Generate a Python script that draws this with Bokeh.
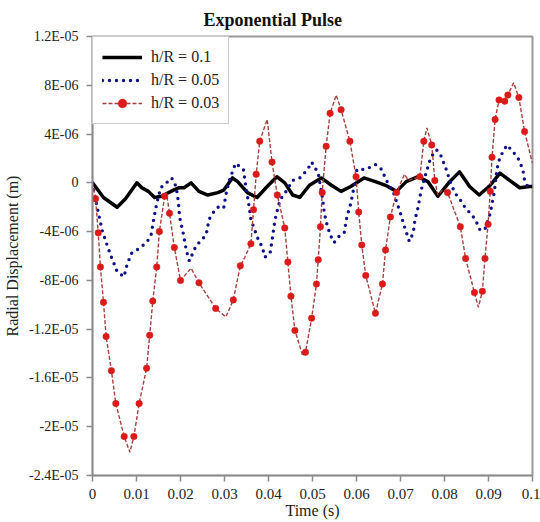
from bokeh.plotting import figure
from bokeh.models import FixedTicker, Legend, LegendItem
from bokeh.embed import file_html
from bokeh.resources import INLINE

# Time (s)
black_t = [0, 0.0025, 0.0056, 0.0075, 0.0101, 0.0112, 0.0127, 0.0141, 0.0157, 0.0184, 0.0197, 0.0208,
           0.0224, 0.0242, 0.0262, 0.0285, 0.0298, 0.0318, 0.033, 0.0352, 0.0374, 0.0397, 0.0419, 0.0437,
           0.0455, 0.0471, 0.0493, 0.052, 0.0543, 0.0565, 0.0587, 0.0617, 0.0643, 0.0666, 0.0691, 0.0713,
           0.074, 0.0762, 0.0785, 0.0812, 0.0834, 0.0857, 0.0879, 0.0904, 0.0926, 0.0948, 0.0971, 0.0993, 0.1]
# Radial displacement in units of 1E-06 m
black_v = [0, -1.2, -2.0, -1.3, 0.0, -0.4, -0.7, -1.2, -1.1, -0.6, -0.4, -0.4,
           0.0, -0.7, -1.0, -0.8, -0.6, 0.4, 0.1, -0.8, -1.2, -0.3, 0.5, 0.0,
           -1.0, -1.2, -0.2, 0.4, -0.2, -0.7, -0.3, 0.4, 0.1, -0.2, -0.7, 0.1,
           0.5, 0.1, -1.1, 0.1, 0.9, -0.3, -1.0, -0.2, 0.8, 0.2, -0.4, -0.3, -0.3]

blue_t = [0, 0.0007, 0.0016, 0.0022, 0.0034, 0.0043, 0.0052, 0.0056, 0.0072, 0.0076, 0.0081, 0.0088,
          0.0101, 0.0112, 0.0123, 0.0133, 0.0139, 0.0146, 0.0155, 0.0168, 0.018, 0.019, 0.0195, 0.0198,
          0.0206, 0.0213, 0.022, 0.0235, 0.0247, 0.0258, 0.0265, 0.0273, 0.0285, 0.0298, 0.0303, 0.031,
          0.0318, 0.0325, 0.0343, 0.0348, 0.0355, 0.036, 0.0375, 0.0386, 0.0392, 0.0404, 0.0415, 0.0426,
          0.0442, 0.0455, 0.0471, 0.0489, 0.0498, 0.0513, 0.0522, 0.0527, 0.0534, 0.0542, 0.0549, 0.056,
          0.0572, 0.0578, 0.0587, 0.0594, 0.0601, 0.0621, 0.0643, 0.0657, 0.0668, 0.0684, 0.07, 0.0709,
          0.072, 0.0729, 0.0733, 0.074, 0.0747, 0.0758, 0.0769, 0.0782, 0.0791, 0.0803, 0.0812, 0.0823,
          0.0836, 0.0848, 0.0859, 0.087, 0.0881, 0.0892, 0.0904, 0.0913, 0.0919, 0.0926, 0.0942, 0.0957,
          0.0969, 0.0978, 0.0982, 0.0995]
blue_v = [0, -1.4, -2.9, -3.9, -5.2, -6.1, -6.9, -7.3, -7.7, -7.0, -6.5, -5.8,
          -5.5, -5.2, -4.9, -4.3, -3.0, -1.7, -0.4, 0.0, 0.4, -0.3, -1.5, -2.8,
          -4.1, -5.5, -6.4, -5.2, -4.7, -4.3, -3.0, -2.5, -2.0, -2.1, -1.0, 0.1,
          0.9, 1.6, 1.1, -0.2, -1.7, -3.0, -4.5, -5.3, -6.1, -5.7, -3.0, -1.4,
          -0.6, 0.2, 0.4, 1.1, 1.7, 0.8, -1.1, -2.5, -3.6, -4.4, -4.9, -4.4,
          -4.1, -2.8, -1.7, -0.4, 1.1, 1.1, 1.5, 1.1, 0.2, -0.8, -2.5, -3.6,
          -4.8, -4.1, -3.0, -2.0, -0.6, 0.8, 2.1, 2.7, 2.3, 1.2, 0.2, -0.8,
          -1.4, -2.1, -2.5, -3.0, -3.9, -3.8, -2.5, -0.8, 1.1, 2.1, 3.1, 2.5,
          1.9, 1.1, 0.2, -0.7]

red_t = [0, 0.0007, 0.0013, 0.0018, 0.0025, 0.0031, 0.0043, 0.0053, 0.0072, 0.0085, 0.0094, 0.0106,
         0.0123, 0.013, 0.0137, 0.0146, 0.0152, 0.0164, 0.0168, 0.0175, 0.0186, 0.02, 0.0224, 0.0242,
         0.028, 0.0303, 0.032, 0.0336, 0.0345, 0.036, 0.0366, 0.0372, 0.038, 0.0397, 0.0408, 0.042,
         0.0437, 0.0444, 0.0451, 0.046, 0.0478, 0.0484, 0.0498, 0.0509, 0.0513, 0.0518, 0.0522, 0.0531,
         0.054, 0.0554, 0.0565, 0.0585, 0.0599, 0.0605, 0.0612, 0.0621, 0.0643, 0.0659, 0.0666, 0.0677,
         0.0691, 0.0709, 0.0718, 0.0744, 0.0753, 0.076, 0.0771, 0.0778, 0.0785, 0.0795, 0.0807, 0.0836,
         0.0848, 0.0868, 0.0877, 0.0886, 0.0892, 0.0899, 0.0904, 0.0908, 0.0915, 0.0924, 0.0937, 0.0944,
         0.0957, 0.0969, 0.0982, 0.1]
red_v = [0, -1.3, -4.1, -6.9, -9.8, -12.6, -15.4, -18.1, -20.8, -22.1, -20.8, -18.1,
         -15.2, -12.5, -9.7, -6.9, -4.0, -1.1, -0.8, -2.5, -5.3, -8.0, -7.0, -8.2,
         -10.3, -11.0, -9.6, -6.8, -6.2, -5.0, -2.2, 0.7, 3.4, 5.2, 1.7, -1.0,
         -3.7, -6.5, -9.3, -12.1, -14.2, -13.9, -11.1, -8.3, -6.3, -3.6, -0.8, 3.0,
         5.7, 7.2, 6.0, 3.4, 0.5, -2.4, -5.1, -7.6, -10.7, -8.3, -5.5, -2.8,
         -0.8, 0.7, 0.2, 0.5, 3.4, 4.5, 3.1, 0.2, -1.0, -0.6, -0.8, -3.6,
         -6.2, -9.0, -10.2, -8.9, -6.2, -3.4, -0.7, 2.1, 5.2, 6.8, 6.7, 7.2,
         8.2, 7.0, 4.2, 1.6]
red_marked = [0, 1, 1, 1, 1, 1, 1, 1, 1, 0, 1, 1,
              1, 1, 1, 1, 1, 1, 0, 1, 1, 1, 0, 1,
              1, 0, 1, 1, 0, 1, 1, 1, 1, 0, 1, 1,
              1, 1, 1, 1, 0, 1, 1, 1, 1, 1, 1, 1,
              1, 0, 1, 1, 1, 1, 1, 1, 1, 1, 1, 1,
              1, 0, 0, 1, 1, 0, 1, 1, 0, 0, 1, 1,
              1, 1, 0, 1, 1, 1, 1, 1, 1, 1, 1, 1,
              0, 1, 1, 0]

x_ticks = [0, 0.01, 0.02, 0.03, 0.04, 0.05, 0.06, 0.07, 0.08, 0.09, 0.1]
x_labels = ["0", "0.01", "0.02", "0.03", "0.04", "0.05", "0.06", "0.07", "0.08", "0.09", "0.1"]
y_ticks = [12, 8, 4, 0, -4, -8, -12, -16, -20, -24]
y_labels = ["1.2E-05", "8E-06", "4E-06", "0", "-4E-06", "-8E-06", "-1.2E-05", "-1.6E-05", "-2E-05", "-2.4E-05"]
series_names = ["h/R = 0.1", "h/R = 0.05", "h/R = 0.03"]

SERIF = "Liberation Serif"
RED_MARK = "#dd1a1a"

p = figure(width=540, height=522, output_backend="svg", toolbar_location=None,
           x_range=(0, 0.1), y_range=(-24, 12),
           min_border_left=92, min_border_right=8, min_border_top=36, min_border_bottom=47,
           title="Exponential Pulse")
p.title.align = "left"
p.title.offset = 111
p.title.text_font = SERIF
p.title.text_font_size = "18px"
p.title.text_font_style = "bold"
p.title.text_color = "#111111"
p.title.standoff = 14

p.xgrid.visible = False
p.ygrid.visible = False
p.outline_line_color = "#9a9a9a"
p.outline_line_width = 2
p.background_fill_color = "white"
p.border_fill_color = "white"

p.xaxis.ticker = FixedTicker(ticks=x_ticks)
p.xaxis.major_label_overrides = dict(zip(x_ticks, x_labels))
p.yaxis.ticker = FixedTicker(ticks=y_ticks)
p.yaxis.major_label_overrides = dict(zip(y_ticks, y_labels))
for ax in (p.xaxis, p.yaxis):
    ax.axis_line_color = "#8a8a8a"
    ax.axis_line_width = 1.5
    ax.major_tick_line_color = "#8a8a8a"
    ax.major_tick_line_width = 1.5
    ax.major_tick_out = 6
    ax.major_tick_in = 0
    ax.minor_tick_line_color = None
    ax.major_label_text_font = SERIF
    ax.major_label_text_color = "#222222"
    ax.axis_label_text_font = SERIF
    ax.axis_label_text_font_size = "16px"
    ax.axis_label_text_font_style = "normal"
    ax.axis_label_text_color = "#222222"
p.xaxis.major_label_text_font_size = "15px"
p.yaxis.major_label_text_font_size = "14px"
p.xaxis.axis_label = "Time (s)"
p.yaxis.axis_label = "Radial Displacement (m)"
p.xaxis.major_label_standoff = 7
p.xaxis.axis_label_standoff = 0
p.yaxis.major_label_standoff = 8
p.yaxis.axis_label_standoff = 5

r_black = p.line(black_t, black_v, line_color="black", line_width=3.5, line_join="round")
r_blue = p.line(blue_t, blue_v, line_color="#10108a", line_width=3.4, line_dash="0 7",
                line_cap="round", line_join="round")
r_red_line = p.line(red_t, red_v, line_color="#a84040", line_width=1.4, line_dash="4 2")
mk_t = [t for t, m in zip(red_t, red_marked) if m]
mk_v = [v for v, m in zip(red_v, red_marked) if m]
r_red_pts = p.scatter(mk_t, mk_v, marker="circle", size=6.5,
                      fill_color=RED_MARK, line_color=RED_MARK, line_width=0.5)

legend = Legend(items=[
    LegendItem(label=series_names[0], renderers=[r_black]),
    LegendItem(label=series_names[1], renderers=[r_blue]),
    LegendItem(label=series_names[2], renderers=[r_red_line, r_red_pts]),
], location="top_left")
legend.margin = 0
legend.padding = 9
legend.spacing = 1
legend.glyph_width = 40
legend.label_height = 22
legend.glyph_height = 22
legend.label_standoff = 9
legend.label_text_font = SERIF
legend.label_text_font_size = "16px"
legend.label_text_color = "#222222"
legend.border_line_color = "#9a9a9a"
legend.border_line_width = 1.2
legend.background_fill_alpha = 1
p.add_layout(legend)

open("out.html", "w").write(file_html(p, INLINE))
